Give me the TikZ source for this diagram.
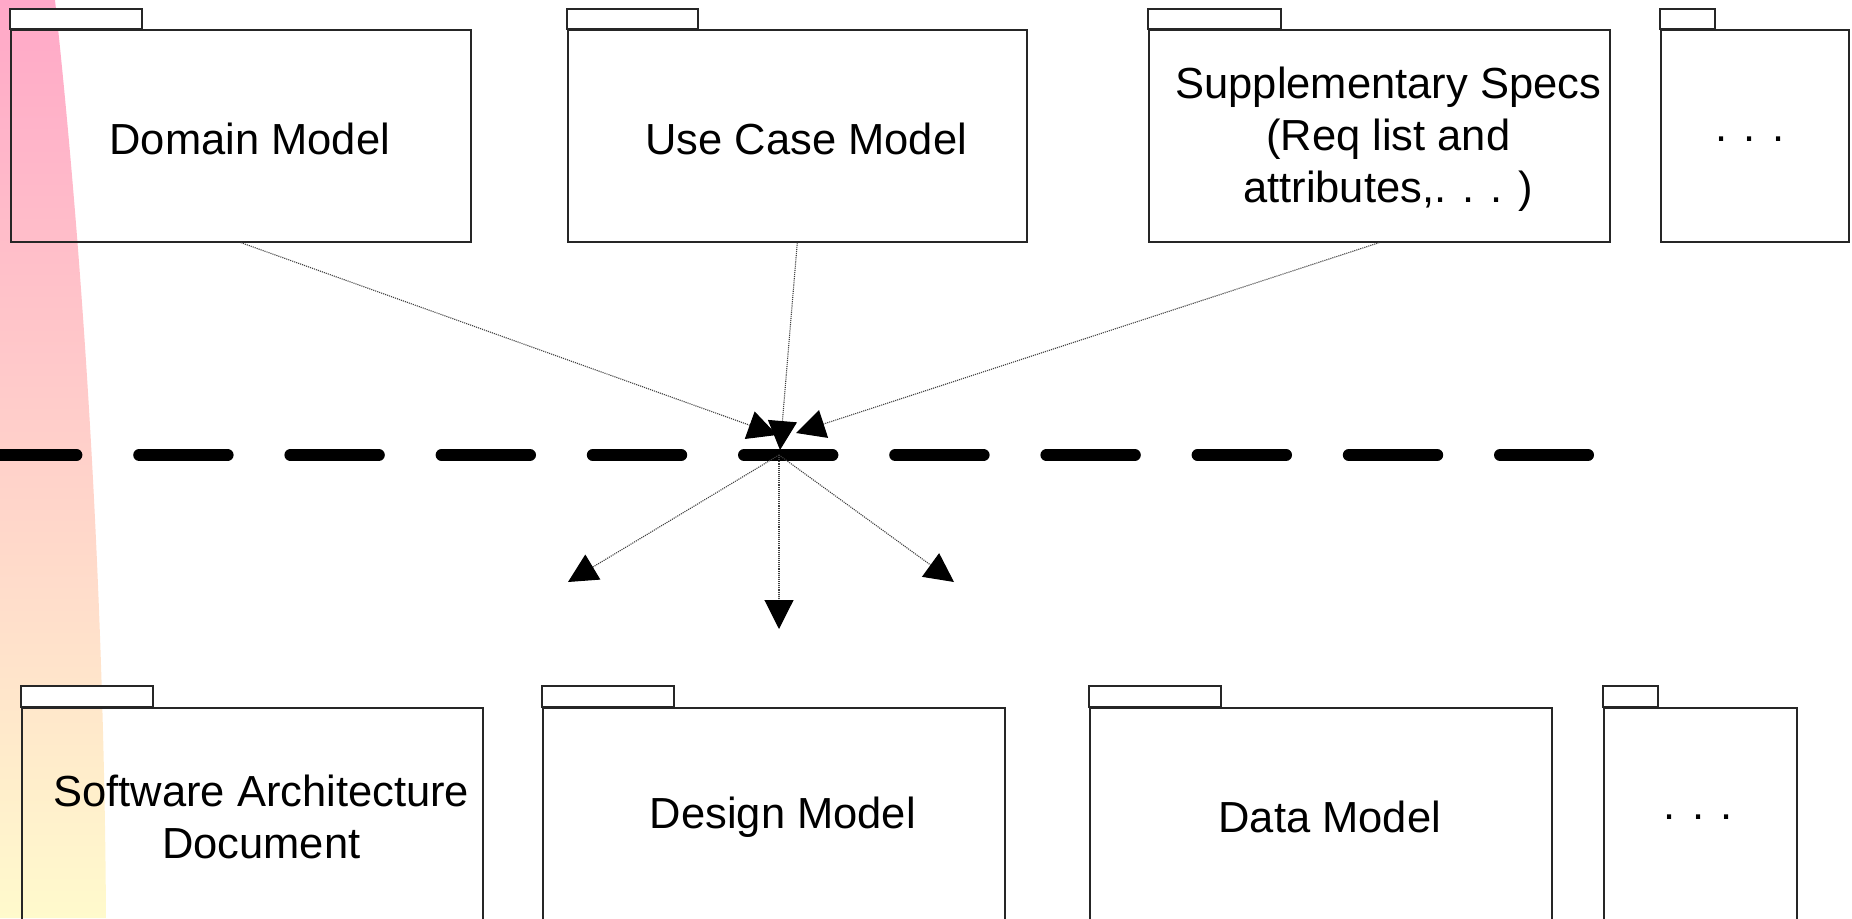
\documentclass[tikz,border=0pt]{standalone}
\usepackage{fontspec}
\setmainfont{Liberation Sans}
\usetikzlibrary{arrows.meta}
\definecolor{rosa}{RGB}{255,168,200}
\definecolor{crema}{RGB}{255,250,204}

\begin{document}
\begin{tikzpicture}[x=1pt, y=-1pt,
  pkg/.style={draw=black!85, line width=1.6pt, anchor=north west, inner sep=0pt, minimum height=212pt},
  pkgtab/.style={draw=black!85, line width=1.6pt, fill=white},
  pkgtext/.style={font=\fontsize{43.5}{52}\selectfont, align=center, inner sep=0pt, xshift=9pt, yshift=-3pt},
  flow/.style={draw=black!75, line width=1.1pt, densely dotted, -{Triangle[length=29pt, width=29pt, black]}}]
\useasboundingbox (0,0) rectangle (1852,918);
\clip (0,0) rectangle (1852,918);

% Fondo
\shade[top color=rosa, bottom color=crema] (-10,0) -- (55,0) .. controls (80,230) and (104,560) .. (106,918) -- (-10,918) -- cycle;

% Paquetes de entrada
\node[pkg, minimum width=460pt] (domain) at (10,29) {};
\node[pkg, minimum width=459pt] (usecase) at (567,29) {};
\node[pkg, minimum width=461pt] (suppspec) at (1148,29) {};
\node[pkg, minimum width=188pt] (moreIn) at (1660,29) {};
\draw[pkgtab] (domain.north west) rectangle ++(132,-20);
\draw[pkgtab] (usecase.north west) rectangle ++(131,-20);
\draw[pkgtab] (suppspec.north west) rectangle ++(133,-20);
\draw[pkgtab] (moreIn.north west) rectangle ++(55,-20);
\node[pkgtext] (domainLbl) at (domain.center) {Domain Model};
\node[pkgtext] (usecaseLbl) at (usecase.center) {Use Case Model};
\node[pkgtext] (suppspecLbl) at (suppspec.center) {Supplementary Specs\\(Req list and\\attributes,. . . )};
\node[pkgtext, xshift=-14pt] (moreInLbl) at (moreIn.center) {.\hspace{0.38em}.\hspace{0.38em}.};

% Paquetes de salida
\node[pkg, minimum width=461pt] (softarch) at (21,707) {};
\node[pkg, minimum width=462pt] (design) at (542,707) {};
\node[pkg, minimum width=462pt] (datamodel) at (1089,707) {};
\node[pkg, minimum width=193pt] (moreOut) at (1603,707) {};
\draw[pkgtab] (softarch.north west) rectangle ++(132,-21);
\draw[pkgtab] (design.north west) rectangle ++(132,-21);
\draw[pkgtab] (datamodel.north west) rectangle ++(132,-21);
\draw[pkgtab] (moreOut.north west) rectangle ++(55,-21);
\node[pkgtext] (softarchLbl) at (softarch.center) {Software Architecture\\Document};
\node[pkgtext] (designLbl) at (design.center) {Design Model};
\node[pkgtext] (datamodelLbl) at (datamodel.center) {Data Model};
\node[pkgtext, xshift=-11pt] (moreOutLbl) at (moreOut.center) {.\hspace{0.38em}.\hspace{0.38em}.};

% Separador
\draw[line width=12pt, line cap=round, dash pattern=on 88.4pt off 62.8pt] (-12,455) -- (1588,455);

% Flechas
\coordinate (hub) at (779,455);
\coordinate (domainEnd) at (777,435);
\coordinate (usecaseEnd) at (780,450);
\coordinate (suppEnd) at (796,433);
\coordinate (archEnd) at (568,582);
\coordinate (designEnd) at (779,629);
\coordinate (dataEnd) at (954,582);
\draw[flow] (domain.south) -- (domainEnd);
\draw[flow] (usecase.south) -- (usecaseEnd);
\draw[flow] (suppspec.south) -- (suppEnd);
\draw[flow] (hub) -- (archEnd);
\draw[flow] (hub) -- (designEnd);
\draw[flow] (hub) -- (dataEnd);
\end{tikzpicture}
\end{document}
